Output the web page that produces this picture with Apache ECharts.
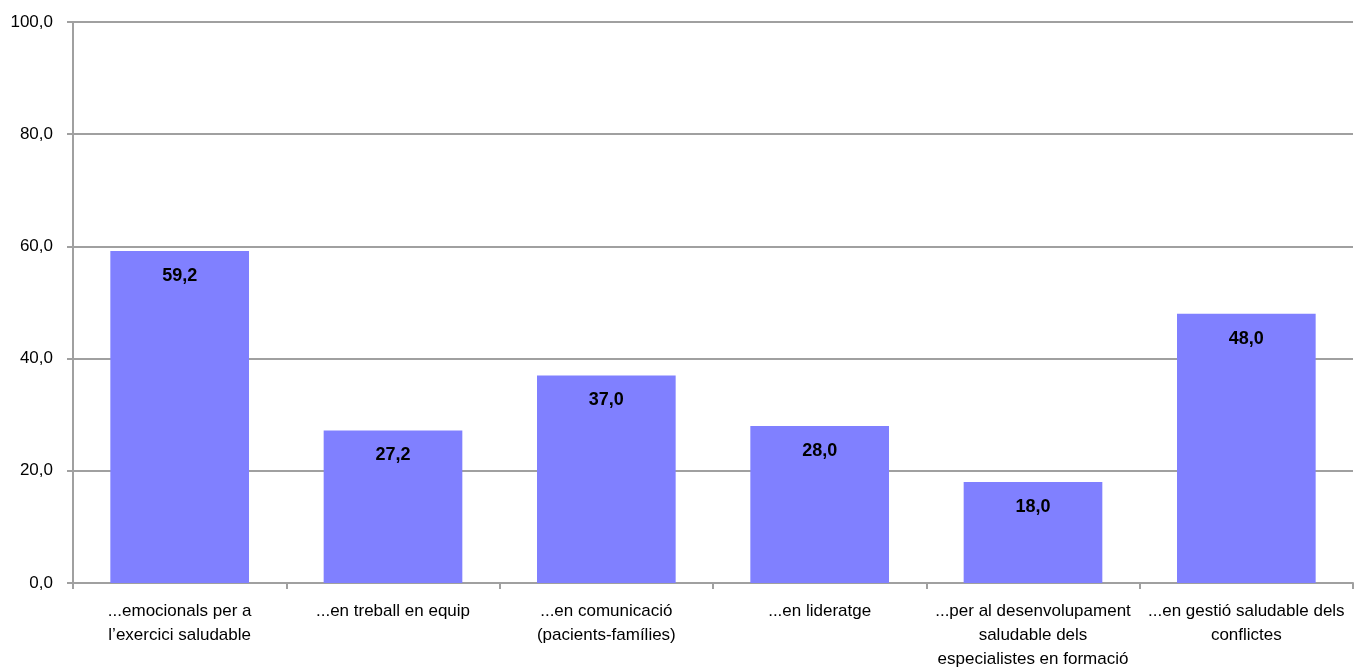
<!DOCTYPE html>
<html>
<head>
<meta charset="utf-8">
<script src="https://cdn.jsdelivr.net/npm/echarts@6/dist/echarts.min.js"></script>
<style>
html,body{margin:0;padding:0;background:#fff;}
#chart{width:1364px;height:671px;}
</style>
</head>
<body>
<div id="chart"></div>
<script>
const categories = [
  "...emocionals per a\nl\u2019exercici saludable",
  "...en treball en equip",
  "...en comunicació\n(pacients-famílies)",
  "...en lideratge",
  "...per al desenvolupament\nsaludable dels\nespecialistes en formació",
  "...en gestió saludable dels\nconflictes"
];
const values = [59.2, 27.2, 37.0, 28.0, 18.0, 48.0];
const yTicks = [0, 20, 40, 60, 80, 100];

const FONT = '"Liberation Sans", Arial, sans-serif';
const chart = echarts.init(document.getElementById('chart'));
chart.setOption({
  animation: false,
  grid: {left: 73, right: 11, top: 22, bottom: 88},
  xAxis: {
    type: 'category',
    data: categories,
    axisLine: {lineStyle: {color: '#a0a0a0', width: 2}},
    axisTick: {show: true, length: 6, lineStyle: {color: '#a0a0a0', width: 2}},
    axisLabel: {interval: 0, margin: 16, fontFamily: FONT, fontSize: 17, lineHeight: 24, color: '#000'}
  },
  yAxis: {
    type: 'value',
    min: yTicks[0], max: yTicks[yTicks.length - 1], interval: 20,
    axisLine: {show: true, lineStyle: {color: '#a0a0a0', width: 2}},
    axisTick: {show: true, length: 6, lineStyle: {color: '#a0a0a0', width: 2}},
    splitLine: {lineStyle: {color: '#a0a0a0', width: 2}},
    axisLabel: {margin: 20, fontFamily: FONT, fontSize: 17, color: '#000',
      formatter: v => v.toFixed(1).replace('.', ',')}
  },
  series: [{
    type: 'bar',
    data: values,
    barWidth: '65%',
    itemStyle: {color: '#8080FF'},
    label: {
      show: true, position: 'insideTop', distance: 16,
      fontFamily: FONT, fontSize: 18, fontWeight: 'bold', color: '#000',
      formatter: p => p.value.toFixed(1).replace('.', ',')
    }
  }]
});
</script>
</body>
</html>
